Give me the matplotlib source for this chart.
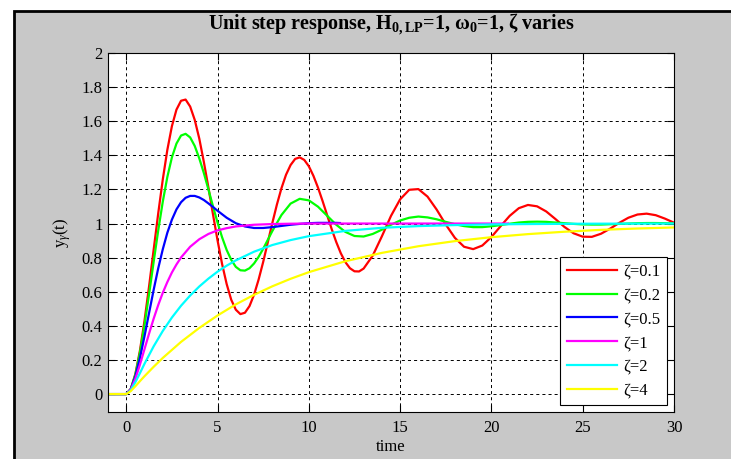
import matplotlib
matplotlib.use('Agg')
import matplotlib.pyplot as plt
from matplotlib.patches import Rectangle

# zeta = 0.1
t_z01 = [-1, 0, 0.25, 0.5, 0.75, 1, 1.25, 1.5, 1.75, 2, 2.25, 2.5, 2.75, 3, 3.25, 3.5, 3.75,
         4, 4.25, 4.5, 4.75, 5, 5.25, 5.5, 5.75, 6, 6.25, 6.5, 6.75, 7, 7.25, 7.5, 7.75,
         8, 8.25, 8.5, 8.75, 9, 9.25, 9.5, 9.75, 10, 10.25, 10.5, 10.75, 11, 11.25, 11.5, 11.75,
         12, 12.25, 12.5, 12.75, 13, 13.5, 14, 14.5, 15, 15.5, 16, 16.5, 17, 17.5, 18, 18.5,
         19, 19.5, 20, 20.5, 21, 21.5, 22, 22.5, 23, 23.5, 24, 24.5, 25, 25.5, 26, 26.5,
         27, 27.5, 28, 28.5, 29, 29.5, 30]
y_z01 = [0, 0, 0.031, 0.118, 0.256, 0.431, 0.632, 0.846, 1.059, 1.258, 1.432, 1.571, 1.668, 1.720, 1.727, 1.686, 1.608,
         1.498, 1.361, 1.211, 1.054, 0.901, 0.762, 0.645, 0.553, 0.495, 0.469, 0.477, 0.516, 0.583, 0.672, 0.775, 0.889,
         1.003, 1.111, 1.207, 1.286, 1.343, 1.379, 1.388, 1.373, 1.336, 1.280, 1.211, 1.133, 1.050, 0.968, 0.892, 0.826,
         0.774, 0.738, 0.720, 0.719, 0.736, 0.812, 0.925, 1.045, 1.142, 1.198, 1.202, 1.158, 1.082, 0.994, 0.916, 0.864,
         0.850, 0.871, 0.921, 0.984, 1.045, 1.090, 1.109, 1.101, 1.071, 1.027, 0.980, 0.943, 0.923, 0.922, 0.940, 0.970,
         1.004, 1.034, 1.053, 1.058, 1.049, 1.029, 1.005]

# zeta = 0.2
t_z02 = [-1, 0, 0.25, 0.5, 0.75, 1, 1.25, 1.5, 1.75, 2, 2.25, 2.5, 2.75, 3, 3.25, 3.5, 3.75,
         4, 4.25, 4.5, 4.75, 5, 5.25, 5.5, 5.75, 6, 6.25, 6.5, 6.75, 7, 7.25, 7.5,
         8, 8.5, 9, 9.5, 10, 10.5, 11, 11.5, 12, 12.5, 13, 13.5, 14, 14.5, 15, 15.5, 16, 16.5,
         17, 17.5, 18, 18.5, 19, 19.5, 20, 20.5, 21, 21.5, 22, 22.5, 23, 23.5, 24, 24.5, 25,
         25.5, 26, 26.5, 27, 27.5, 28, 28.5, 29, 29.5, 30]
y_z02 = [0, 0, 0.030, 0.115, 0.244, 0.405, 0.586, 0.775, 0.959, 1.128, 1.273, 1.388, 1.469, 1.516, 1.526, 1.505, 1.455,
         1.382, 1.296, 1.200, 1.101, 1.006, 0.919, 0.845, 0.787, 0.746, 0.726, 0.724, 0.738, 0.766, 0.805, 0.852,
         0.956, 1.050, 1.117, 1.145, 1.136, 1.099, 1.046, 0.993, 0.951, 0.927, 0.924, 0.939, 0.964, 0.993, 1.018, 1.034, 1.041, 1.036,
         1.025, 1.010, 0.996, 0.985, 0.979, 0.979, 0.984, 0.991, 0.999, 1.006, 1.010, 1.011, 1.010, 1.006, 1.002, 0.998, 0.995,
         0.994, 0.994, 0.996, 0.998, 1.000, 1.002, 1.003, 1.003, 1.002, 1.001]

# zeta = 0.5
t_z05 = [-1, 0, 0.25, 0.5, 0.75, 1, 1.25, 1.5, 1.75, 2, 2.25, 2.5, 2.75, 3, 3.25, 3.5, 3.75,
         4, 4.25, 4.5, 4.75, 5, 5.5, 6, 6.5, 7, 7.5, 8, 8.5, 9, 9.5, 10, 10.5, 11, 11.5, 11.7]
y_z05 = [0, 0, 0.029, 0.104, 0.213, 0.340, 0.476, 0.611, 0.737, 0.849, 0.946, 1.023, 1.083, 1.125, 1.151, 1.162, 1.162,
         1.153, 1.138, 1.118, 1.097, 1.075, 1.034, 1.002, 0.983, 0.974, 0.974, 0.979, 0.986, 0.993, 0.998, 1.002,
         1.004, 1.004, 1.004, 1.003]

# zeta = 1
t_z1 = [-1, 0, 0.25, 0.5, 0.75, 1, 1.25, 1.5, 1.75, 2, 2.25, 2.5, 2.75, 3, 3.5, 4, 4.5, 5,
        5.5, 6, 7, 8, 9, 10, 15, 20.9]
y_z1 = [0, 0, 0.026, 0.090, 0.173, 0.264, 0.355, 0.442, 0.522, 0.594, 0.657, 0.713, 0.760, 0.801,
        0.864, 0.908, 0.939, 0.960, 0.973, 0.983, 0.993, 0.997, 0.999, 1.0, 1.0, 1.0]

# zeta = 2
t_z2 = [-1, 0, 0.25, 0.5, 0.75, 1, 1.5, 2, 2.5, 3, 3.5, 4, 4.5, 5, 5.5, 6, 7, 8, 9, 10,
        12, 14, 16, 18, 20, 22, 25, 30]
y_z2 = [0, 0, 0.023, 0.070, 0.123, 0.178, 0.280, 0.370, 0.449, 0.518, 0.578, 0.631, 0.677, 0.718,
        0.753, 0.784, 0.835, 0.874, 0.903, 0.926, 0.957, 0.975, 0.985, 0.991, 0.995, 0.997, 0.999, 1.0]

# zeta = 4
t_z4 = [-1, 0, 0.25, 0.5, 0.75, 1, 1.5, 2, 3, 4, 5, 6, 7, 8, 9, 10, 12, 14, 16, 18, 20,
        22, 24, 26, 28, 30]
y_z4 = [0, 0, 0.018, 0.046, 0.076, 0.105, 0.160, 0.212, 0.306, 0.388, 0.461, 0.526, 0.582, 0.632,
        0.676, 0.715, 0.779, 0.828, 0.867, 0.897, 0.920, 0.938, 0.952, 0.963, 0.971, 0.977]

labels = ['ζ=0.1', 'ζ=0.2', 'ζ=0.5', 'ζ=1', 'ζ=2', 'ζ=4']
colors = ['#ff0000', '#00ff00', '#0000ff', '#ff00ff', '#00ffff', '#ffff00']
xticks = [0, 5, 10, 15, 20, 25, 30]
yticks = [0, 0.2, 0.4, 0.6, 0.8, 1, 1.2, 1.4, 1.6, 1.8, 2]
ytick_labels = ['0', '0.2', '0.4', '0.6', '0.8', '1', '1.2', '1.4', '1.6', '1.8', '2']

plt.rcParams['font.family'] = ['Liberation Serif', 'DejaVu Serif']
plt.rcParams['mathtext.fontset'] = 'custom'
plt.rcParams['mathtext.rm'] = 'Liberation Serif'
plt.rcParams['mathtext.it'] = 'Liberation Serif:italic'
plt.rcParams['mathtext.bf'] = 'Liberation Serif:bold'
plt.rcParams['lines.scale_dashes'] = False

fig = plt.figure(figsize=(7.31, 4.59), dpi=100, facecolor='white')
# grey panel, black border on left and top
fig.patches.append(Rectangle((13.5 / 731, -0.1), 1.2, 1 - 10.5 / 459 + 0.1,
                             transform=fig.transFigure, facecolor='#c8c8c8',
                             edgecolor='black', linewidth=2, zorder=-10))

ax = fig.add_axes([108 / 731, 1 - 412 / 459, (674 - 108) / 731, (412 - 53) / 459])
ax.set_facecolor('white')

series = [(t_z01, y_z01), (t_z02, y_z02), (t_z05, y_z05),
          (t_z1, y_z1), (t_z2, y_z2), (t_z4, y_z4)]
for (t, y), c, lab in zip(series, colors, labels):
    ax.plot(t, y, color=c, linewidth=1.6, label=lab)

ax.set_xlim(-1, 30)
ax.set_ylim(-0.105, 2)
ax.set_xticks(xticks)
ax.set_yticks(yticks)
ax.set_yticklabels(ytick_labels)
ax.tick_params(direction='in', top=True, right=True, length=5, width=0.8,
               labelsize=12, colors='black')
ax.tick_params(axis='x', pad=6)
ax.tick_params(axis='y', pad=4)
ax.grid(True, color='black', linestyle=(0, (2.2, 2.2)), linewidth=0.7)
for s in ax.spines.values():
    s.set_linewidth(0.8)

ax.set_title(r'Unit step response, H$_{\mathbf{0,LP}}$=1, ω$_{\mathbf{0}}$=1, ζ varies',
             fontsize=14.5, fontweight='bold', pad=17)
ax.set_xlabel('time', fontsize=12, labelpad=2)
ax.set_ylabel(r'y$_{\gamma}$(t)', fontsize=12, labelpad=6)

leg = ax.legend(loc='lower right', fontsize=12, fancybox=False, framealpha=1,
                edgecolor='black', handlelength=3.0, handletextpad=0.4,
                labelspacing=0.47, borderaxespad=0.4, borderpad=0.4)
leg.get_frame().set_linewidth(0.8)

fig.savefig('out.png', dpi=100, facecolor=fig.get_facecolor())
